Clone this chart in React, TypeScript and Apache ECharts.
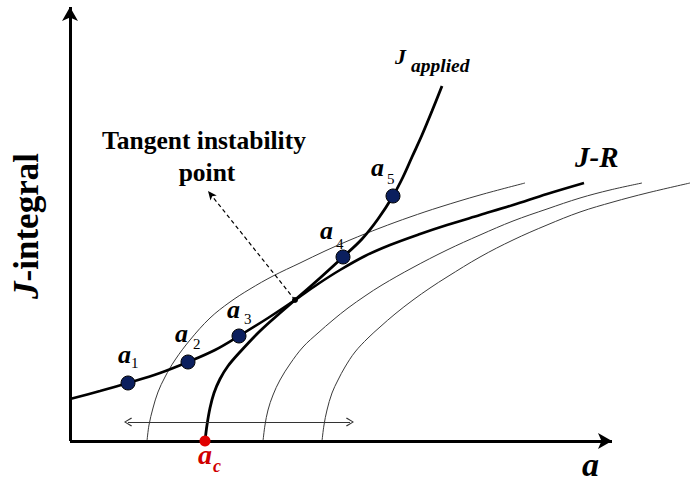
import React, { useEffect, useRef } from "react";
import * as echarts from "echarts";

// Schematic data, in chart units: a (crack length) from the origin, J upward from the a-axis
const jrCurve: [number, number][] = [
  [0, 42], [30, 50], [58, 58], [90, 68], [118, 79], [145, 91], [169, 105], [198, 123],
  [225, 141], [248, 157], [270, 171], [295, 185], [320, 196], [350, 207], [377, 216],
  [410, 226], [443, 236], [477, 247], [514, 258],
];
const jApplied: [number, number][] = [
  [135, 0], [137, 16], [140, 33], [144, 48], [150, 62], [158, 75], [170, 89], [190, 110],
  [210, 128], [225, 141], [250, 163], [273, 184], [292, 202], [308, 222], [323, 245],
  [333, 264], [342, 284], [352, 306], [362, 330], [372, 355],
];
const rCurve1: [number, number][] = [
  [77, 0], [79, 16], [83, 33], [88, 49], [95, 64], [105, 81], [120, 101], [140, 123],
  [160, 139], [180, 152], [203, 165], [230, 178], [255, 190], [280, 201], [310, 213],
  [340, 224], [370, 234], [410, 246], [455, 258],
];
const rCurve2: [number, number][] = [
  [193, 0], [195, 16], [198, 31], [203, 46], [210, 61], [220, 77], [233, 94], [248, 108],
  [263, 121], [278, 133], [295, 145], [312, 156], [342, 173], [377, 191], [410, 206],
  [443, 220], [477, 232], [510, 243], [540, 251], [572, 258],
];
const rCurve3: [number, number][] = [
  [252, 0], [254, 16], [257, 31], [262, 48], [268, 61], [275, 74], [285, 89], [298, 103],
  [310, 114], [325, 127], [343, 141], [360, 153], [377, 164], [410, 184], [443, 201],
  [477, 216], [510, 229], [543, 239], [577, 248], [620, 258],
];
const pointA = [58, 118, 169, 273, 323];
const pointJ = [58, 79, 105, 184, 245];
const pointNames = ["a1", "a2", "a3", "a4", "a5"];
const acValue = 135;
const tangentPoint: [number, number] = [225, 141];
const tangentArrowTip: [number, number] = [138, 250];
const spanArrowA: [number, number] = [58, 280];
const spanArrowJ = 19;
const axisEnds = { a: 542, j: 434 };

const SERIF = "Liberation Serif, Times New Roman, serif";
const CHEVRON = "path://M5,0 L10,9 L9,10 L5,2.2 L1,10 L0,9 Z";

function txt(
  text: string,
  x: number,
  y: number,
  size: number,
  opts: { italic?: boolean; bold?: boolean; fill?: string; align?: string } = {}
) {
  const align = opts.align || "left";
  const style: any = {
    text,
    fontFamily: SERIF,
    fontSize: size,
    fontWeight: opts.bold === false ? "normal" : "bold",
    fontStyle: opts.italic ? "italic" : "normal",
    fill: opts.fill || "#000",
    align,
    textAlign: align,
    verticalAlign: "middle",
    textVerticalAlign: "middle",
  };
  return { type: "text", x, y, z: 100, silent: true, style };
}

export default function App() {
  const ref = useRef<HTMLDivElement>(null);
  useEffect(() => {
    if (!ref.current) return;
    const chart = echarts.init(ref.current, null, { renderer: "svg" });
    const thin = { width: 1, color: "#3a3a3a" };
    const smoothOpts = { smooth: 0.35, showSymbol: false, silent: true };
    const option: any = {
      animation: false,
      backgroundColor: "#fff",
      grid: { left: 0, right: 0, top: 0, bottom: 0, containLabel: false },
      xAxis: { type: "value", min: -70, max: 620, show: false },
      yAxis: { type: "value", min: -42, max: 441, show: false },
      series: [
        { type: "line", data: rCurve1, ...smoothOpts, lineStyle: thin, z: 2 },
        { type: "line", data: rCurve2, ...smoothOpts, lineStyle: thin, z: 2 },
        { type: "line", data: rCurve3, ...smoothOpts, lineStyle: thin, z: 2 },
        { type: "line", name: "J-R", data: jrCurve, ...smoothOpts, lineStyle: { width: 2.6, color: "#000" }, z: 3 },
        { type: "line", name: "J applied", data: jApplied, ...smoothOpts, lineStyle: { width: 2.8, color: "#000" }, z: 3 },
        {
          type: "line",
          data: [],
          z: 4,
          silent: true,
          markLine: {
            silent: true,
            animation: false,
            symbol: ["none", "arrow"],
            symbolSize: [12, 14],
            label: { show: false },
            lineStyle: { color: "#000", width: 3, type: "solid" },
            data: [
              [{ coord: [0, 0] }, { coord: [0, axisEnds.j] }],
              [{ coord: [0, 0] }, { coord: [axisEnds.a, 0] }],
            ],
          },
        },
        {
          type: "line",
          data: [],
          z: 4,
          silent: true,
          markLine: {
            silent: true,
            animation: false,
            symbol: ["none", "arrow"],
            symbolSize: [6, 9],
            label: { show: false },
            lineStyle: { color: "#000", width: 1.2, type: [4, 3] },
            data: [[{ coord: tangentPoint }, { coord: tangentArrowTip }]],
          },
        },
        {
          type: "line",
          data: [],
          z: 4,
          silent: true,
          markLine: {
            silent: true,
            animation: false,
            symbol: [CHEVRON, CHEVRON],
            symbolSize: [9, 8],
            label: { show: false },
            lineStyle: { color: "#333", width: 1, type: "solid" },
            data: [[{ coord: [spanArrowA[0], spanArrowJ] }, { coord: [spanArrowA[1], spanArrowJ] }]],
          },
        },
        {
          type: "scatter",
          data: pointA.map((a, i) => ({ name: pointNames[i], value: [a, pointJ[i]] })),
          symbolSize: 14,
          itemStyle: { color: "#0b1f5e", borderColor: "#000", borderWidth: 1, opacity: 1 },
          z: 6,
          silent: true,
        },
        {
          type: "scatter",
          data: [{ name: "ac", value: [acValue, 0] }],
          symbolSize: 11,
          itemStyle: { color: "#e00000", opacity: 1 },
          z: 7,
          silent: true,
        },
        {
          type: "scatter",
          data: [{ name: "tangent", value: tangentPoint }],
          symbolSize: 6,
          itemStyle: { color: "#000", opacity: 1 },
          z: 7,
          silent: true,
        },
      ],
      graphic: [
        {
          type: "text",
          x: 26,
          y: 226,
          rotation: Math.PI / 2,
          z: 100,
          silent: true,
          style: {
            text: "{i|J}{b|-integral}",
            align: "center",
            textAlign: "center",
            verticalAlign: "middle",
            textVerticalAlign: "middle",
            rich: {
              i: { fontFamily: SERIF, fontSize: 35, fontWeight: "bold", fontStyle: "italic", fill: "#000" },
              b: { fontFamily: SERIF, fontSize: 35, fontWeight: "bold", fill: "#000" },
            },
          },
        },
        txt("Tangent instability", 204, 140, 25.5, { align: "center" }),
        txt("point", 207, 172, 25.5, { align: "center" }),
        txt("J", 395, 56, 22, { italic: true }),
        txt("applied", 411, 65, 19.5, { italic: true }),
        txt("J-R", 575, 157, 29, { italic: true }),
        txt("a", 118, 354, 26, { italic: true }),
        txt("1", 131, 362.5, 15, { bold: false }),
        txt("a", 175, 333, 26, { italic: true }),
        txt("2", 193, 343.5, 15, { bold: false }),
        txt("a", 227, 309, 26, { italic: true }),
        txt("3", 244, 318.5, 15, { bold: false }),
        txt("a", 320, 230, 26, { italic: true }),
        txt("4", 336, 243.5, 15, { bold: false }),
        txt("a", 371, 167, 26, { italic: true }),
        txt("5", 387, 178.5, 15, { bold: false }),
        txt("a", 198, 454.6, 28, { italic: true, fill: "#d00000" }),
        txt("c", 213, 465.6, 18, { italic: true, fill: "#d00000" }),
        txt("a", 582, 464, 34, { italic: true }),
      ],
    };
    chart.setOption(option);
    return () => chart.dispose();
  }, []);
  return (
    <div
      ref={ref}
      style={{ position: "fixed", left: 0, top: 0, width: 690, height: 483, background: "#fff" }}
    />
  );
}
